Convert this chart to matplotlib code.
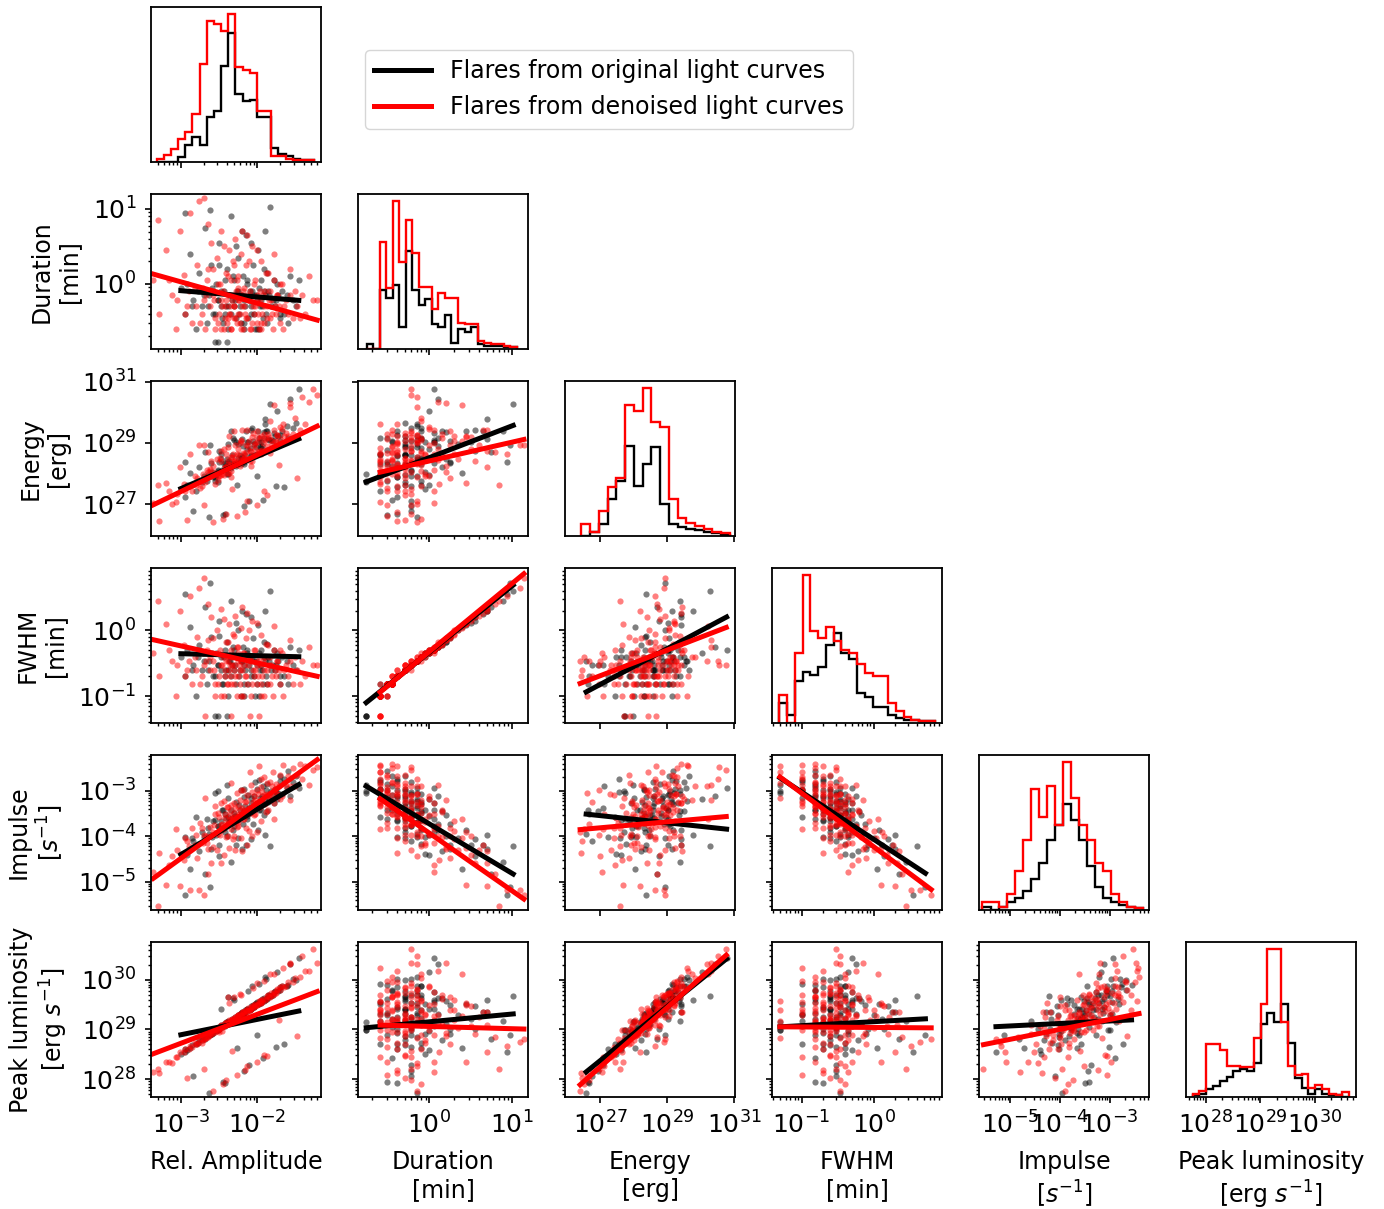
import numpy as np
import matplotlib
matplotlib.use("Agg")
import matplotlib.pyplot as plt
from matplotlib.lines import Line2D
from matplotlib.ticker import LogLocator

plt.rcParams['font.size'] = 17
plt.rcParams['axes.linewidth'] = 1.3
plt.rcParams['xtick.labelsize'] = 18
plt.rcParams['ytick.labelsize'] = 18
plt.rcParams['xtick.major.width'] = 1.2
plt.rcParams['ytick.major.width'] = 1.2
plt.rcParams['xtick.minor.width'] = 1.0
plt.rcParams['ytick.minor.width'] = 1.0
plt.rcParams['xtick.major.size'] = 4.5
plt.rcParams['ytick.major.size'] = 4.5
plt.rcParams['xtick.major.pad'] = 6
plt.rcParams['ytick.major.pad'] = 6

# ---- flare parameters (log10), denoised light curves (red)
red_amp = [-3.36, -3.28, -3.20, -3.12, -3.06, -3.01, -2.96, -2.92, -2.88, -2.85, -2.82, -2.79, -2.76, -2.73, -2.70,
           -2.68, -2.66, -2.64, -2.62, -2.60, -2.58, -2.56, -2.55, -2.53, -2.51, -2.50, -2.48, -2.47, -2.45, -2.44,
           -2.42, -2.41, -2.40, -2.38, -2.37, -2.36, -2.35, -2.34, -2.33, -2.32, -2.31, -2.30, -2.29, -2.28, -2.27,
           -2.26, -2.25, -2.24, -2.23, -2.22, -2.21, -2.20, -2.19, -2.18, -2.16, -2.15, -2.13, -2.12, -2.10, -2.09,
           -2.07, -2.06, -2.04, -2.03, -2.01, -2.00, -1.98, -1.97, -1.95, -1.94, -1.92, -1.90, -1.88, -1.86, -1.84,
           -1.82, -1.80, -1.78, -1.76, -1.74, -1.72, -1.70, -1.68, -1.66, -1.63, -1.60, -1.57, -1.54, -1.51, -1.48,
           -1.45, -1.42, -1.38, -1.33, -1.28, -1.22, -2.90, -2.65, -2.39, -2.14, -3.30, -2.70,
           -2.62, -2.57, -2.52, -2.49, -2.46, -2.43, -2.41, -2.39, -2.37, -2.35, -2.33, -2.31, -2.29, -2.27, -2.25,
           -2.23, -2.21, -2.19, -2.17, -2.15, -2.13, -2.11, -2.09, -2.07, -2.05, -2.03, -2.01, -1.99, -1.97, -1.95,
           -1.93, -1.91, -1.89, -1.87, -1.85, -1.83, -1.81, -1.79, -1.77, -1.75, -2.80, -2.75, -2.71, -2.67, -2.95,
           -3.05, -3.15, -1.70, -1.65, -1.58, -2.44, -2.20, -2.00, -2.58, -2.30, -2.10, -2.48, -1.96, -2.36, -2.26]
red_fwhm = [-0.35, -0.70, 0.10, -0.46, -1.00, 0.30, -0.22, -0.60, 0.52, -0.82, -0.40, -0.10, 0.65, -0.70, -0.52,
            -1.30, -0.30, -0.15, -0.60, 0.20, -0.46, -1.00, -0.82, 0.00, -0.35, -0.70, -0.52, 0.33, -0.40, -1.00,
            -0.60, -0.18, -0.82, -0.46, 0.10, -0.70, -0.30, -1.30, -0.52, -0.05, -0.60, -0.82, 0.22, -0.40, -1.00,
            -0.70, -0.25, -0.52, -0.82, 0.03, -0.46, -0.60, -1.00, -0.35, -0.70, -0.12, -0.82, -0.52, -0.40, -1.00,
            0.14, -0.60, -0.70, -0.30, -0.82, -0.46, -1.30, -0.52, -0.07, -0.70, -1.00, -0.40, -0.60, -0.22, -0.82,
            -0.52, -1.00, 0.06, -0.70, -0.46, -0.60, -0.82, -0.35, -1.00, -0.52, -0.70, -0.15, -0.82, -0.40, -0.60,
            -0.82, -0.46, -0.70, -0.25, -0.52, -0.52, -0.46, 0.40, -0.82, 0.27, 0.45, 0.80,
            -0.40, -0.60, -0.82, -0.30, -0.52, -0.70, -0.46, -0.18, -0.60, -0.82, -0.40, -0.52, -0.70, -0.25, -0.46,
            -0.60, -1.00, -0.35, -0.52, -0.70, -0.40, 0.00, -0.46, -0.82, -0.30, -0.60, -0.52, -0.70, -0.40, -1.00,
            -0.46, -0.60, -0.20, -0.82, -0.52, -0.40, -0.70, -0.30, -0.60, -0.46, -0.60, -0.82, -0.35, -0.46, -0.70,
            -0.52, -0.30, -0.30, -0.60, -0.46, 0.18, 0.35, 0.12, -0.12, -0.08, -1.30, -1.00, -0.82, -0.52, -0.35]
red_dur = [0.05, -0.40, 0.45, -0.15, -0.60, 0.70, 0.12, -0.30, 0.95, -0.52, -0.05, 0.25, 1.10, -0.40, -0.22,
           -0.60, 0.05, 0.20, -0.30, 0.55, -0.15, -0.60, -0.46, 0.35, 0.00, -0.40, -0.22, 0.70, -0.10, -0.60,
           -0.30, 0.15, -0.52, -0.15, 0.45, -0.40, 0.05, -0.60, -0.22, 0.30, -0.30, -0.46, 0.60, -0.10, -0.52,
           -0.40, 0.10, -0.22, -0.52, 0.40, -0.15, -0.30, -0.60, -0.05, -0.40, 0.25, -0.46, -0.22, -0.10, -0.60,
           0.50, -0.30, -0.40, 0.05, -0.52, -0.15, -0.60, -0.22, 0.30, -0.40, -0.52, -0.10, -0.30, 0.15, -0.46,
           -0.22, -0.60, 0.40, -0.40, -0.15, -0.30, -0.52, 0.00, -0.60, -0.22, -0.40, 0.20, -0.46, -0.10, -0.30,
           -0.46, -0.15, -0.40, 0.10, -0.22, -0.22, -0.10, 0.80, -0.46, 0.65, 0.85, 1.15,
           -0.10, -0.22, -0.52, 0.00, -0.30, -0.46, -0.22, 0.10, -0.40, -0.60, -0.15, -0.30, -0.46, 0.05, -0.22,
           -0.40, -0.60, -0.10, -0.30, -0.46, -0.15, 0.30, -0.22, -0.52, 0.00, -0.30, -0.22, -0.40, -0.10, -0.60,
           -0.15, -0.30, 0.15, -0.46, -0.22, -0.10, -0.40, 0.05, -0.30, -0.15, -0.30, -0.52, -0.05, -0.15, -0.40,
           -0.22, 0.05, 0.00, -0.30, -0.15, 0.50, 0.70, 0.45, 0.20, 0.25, -0.60, -0.60, -0.52, -0.30, -0.05]
red_impulse = [-4.79, -4.36, -5.08, -4.44, -3.84, -5.09, -4.52, -4.10, -5.18, -3.81, -4.20, -4.47, -5.19, -3.81, -3.96,
               -3.16, -4.14, -4.27, -3.80, -4.58, -3.90, -3.34, -3.51, -4.31, -3.94, -3.58, -3.74, -4.58, -3.83, -3.22,
               -3.60, -4.01, -3.36, -3.70, -4.25, -3.44, -3.83, -2.82, -3.59, -4.05, -3.49, -3.26, -4.29, -3.66, -3.05,
               -3.34, -3.78, -3.50, -3.19, -4.03, -3.53, -3.38, -2.97, -3.61, -3.24, -3.81, -3.09, -3.38, -3.48, -2.87,
               -3.99, -3.24, -3.12, -3.51, -2.97, -3.32, -2.46, -3.23, -3.66, -3.02, -2.70, -3.28, -3.06, -3.42, -2.80,
               -3.08, -2.58, -3.62, -2.84, -3.06, -2.90, -2.66, -3.11, -2.44, -2.89, -2.68, -3.20, -2.50, -2.89, -2.66,
               -2.41, -2.74, -2.46, -2.86, -2.54, -2.48, -4.22, -4.83, -3.35, -4.19, -5.53, -5.28,
               -4.00, -3.75, -3.48, -3.97, -3.72, -3.51, -3.73, -3.99, -3.55, -3.31, -3.71, -3.57, -3.37, -3.80, -3.57,
               -3.41, -2.99, -3.62, -3.43, -3.23, -3.51, -3.89, -3.41, -3.03, -3.53, -3.21, -3.27, -3.07, -3.35, -2.73,
               -3.25, -3.09, -3.47, -2.83, -3.11, -3.21, -2.89, -3.27, -2.95, -3.07, -3.98, -3.71, -4.14, -3.99, -4.03,
               -4.31, -4.63, -3.18, -2.83, -2.90, -4.40, -4.33, -3.90, -4.24, -4.00, -2.58, -3.26, -2.92, -3.62, -3.69]
red_peak = [28.14, 28.12, 28.35, 28.33, 28.44, 28.54, 28.54, 28.03, 28.67, 28.65, 28.73, 28.71, 28.74, 28.72, 28.20,
            28.82, 28.89, 28.86, 28.93, 28.90, 27.77, 28.99, 28.95, 29.02, 28.99, 28.95, 29.02, 29.08, 27.90, 29.06,
            29.13, 29.09, 29.15, 29.12, 29.53, 29.14, 29.20, 29.16, 28.57, 29.18, 29.24, 29.20, 29.26, 29.22, 28.08,
            29.24, 29.30, 29.26, 29.32, 29.28, 29.69, 29.30, 29.36, 29.32, 28.19, 29.40, 29.37, 29.43, 29.40, 29.41,
            29.48, 29.84, 29.46, 29.52, 28.34, 29.50, 29.57, 29.53, 29.60, 29.56, 29.98, 29.60, 28.47, 29.69, 29.66,
            29.73, 29.70, 30.12, 29.74, 29.81, 29.18, 29.80, 29.87, 30.24, 29.87, 29.95, 30.33, 29.96, 30.04, 28.87,
            30.05, 30.48, 30.17, 30.17, 30.62, 30.33, 28.60, 28.85, 29.66, 29.36, 28.20, 28.80,
            28.88, 28.98, 28.98, 29.06, 28.96, 29.12, 27.99, 29.11, 29.18, 29.15, 29.22, 29.19, 29.21, 29.28, 29.25,
            29.72, 29.29, 29.36, 29.33, 29.40, 28.27, 29.39, 29.46, 29.43, 29.50, 29.47, 29.94, 29.51, 29.58, 29.55,
            29.62, 28.49, 29.61, 29.68, 29.65, 30.12, 29.69, 29.76, 29.73, 29.80, 28.70, 28.80, 28.79, 28.83, 28.60,
            28.45, 28.35, 29.85, 29.85, 30.32, 29.06, 29.35, 29.50, 28.92, 29.65, 29.40, 29.07, 29.54, 29.14, 29.29]
red_energy = [27.05, 26.45, 27.68, 26.99, 27.08, 28.20, 27.65, 26.48, 28.63, 27.42, 27.91, 27.86, 28.92, 27.59, 26.97,
              27.71, 28.10, 28.04, 28.14, 28.41, 26.41, 27.65, 27.97, 28.46, 27.91, 27.91, 28.42, 28.75, 26.52, 27.94,
              28.22, 28.64, 28.02, 28.30, 29.23, 28.28, 28.53, 27.88, 27.49, 28.65, 28.38, 28.42, 28.94, 28.27, 26.62,
              28.32, 28.80, 28.45, 28.26, 29.05, 29.10, 28.46, 28.46, 28.64, 26.75, 28.93, 28.46, 28.89, 28.72, 28.23,
              29.19, 29.32, 28.62, 28.98, 26.98, 29.03, 28.66, 28.73, 29.24, 28.76, 29.28, 29.10, 27.30, 29.28, 28.67,
              29.11, 28.84, 30.23, 29.02, 29.26, 28.29, 29.13, 29.44, 29.60, 29.31, 29.21, 30.30, 29.29, 29.82, 27.86,
              29.41, 30.50, 29.62, 30.32, 30.76, 30.55, 27.60, 28.69, 28.87, 29.41, 27.61, 28.93,
              28.09, 28.06, 27.78, 28.50, 27.98, 28.21, 26.67, 28.43, 28.03, 28.07, 28.54, 28.31, 28.44, 28.64, 28.34,
              28.99, 28.37, 28.66, 28.50, 28.70, 27.11, 29.05, 28.73, 28.41, 28.92, 28.80, 29.40, 28.69, 29.17, 28.63,
              29.00, 27.43, 29.16, 28.90, 29.20, 29.73, 28.95, 29.41, 29.06, 29.25, 27.62, 27.53, 28.00, 27.89, 27.42,
              27.32, 27.44, 29.51, 29.23, 30.18, 28.80, 29.43, 29.19, 28.23, 29.38, 28.42, 27.96, 28.66, 28.24, 28.60]

# ---- flare parameters (log10), original light curves (black)
blk_amp = [-3.00, -2.94, -2.88, -2.84, -2.80, -2.76, -2.72, -2.69, -2.66, -2.63, -2.60, -2.58, -2.56, -2.54, -2.52,
           -2.50, -2.48, -2.46, -2.44, -2.42, -2.40, -2.38, -2.36, -2.34, -2.33, -2.31, -2.30, -2.28, -2.27, -2.25,
           -2.24, -2.22, -2.21, -2.19, -2.18, -2.16, -2.15, -2.13, -2.12, -2.10, -2.08, -2.06, -2.05, -2.03, -2.01,
           -1.99, -1.97, -1.95, -1.93, -1.91, -1.89, -1.87, -1.85, -1.83, -1.80, -1.77, -1.74, -1.71, -1.68, -1.65,
           -1.62, -1.58, -1.54, -1.50, -1.46, -2.62, -2.39, -2.20, -2.52, -2.00, -2.95, -1.60,
           -2.70, -2.64, -2.59, -2.55, -2.51, -2.47, -2.45, -2.43, -2.41, -2.37, -2.35, -2.32, -2.29, -2.26, -2.23,
           -2.20, -2.17, -2.14, -2.11, -2.09, -2.07, -2.04, -2.02, -1.98, -1.96, -1.94, -1.92, -1.90, -1.88, -1.86,
           -1.82, -1.79, -1.76, -1.73, -1.70, -2.78, -2.86, -2.92, -2.28, -2.08, -1.90, -2.40, -2.18, -1.98, -2.50]
blk_fwhm = [-0.40, -0.70, 0.05, -0.52, -1.00, -0.22, -0.60, 0.35, -0.82, -0.46, -0.10, -0.70, -1.30, -0.35, -0.52,
            0.15, -0.60, -0.82, -0.40, -0.70, -0.18, -1.00, -0.46, 0.45, -0.52, -0.60, -0.30, -0.82, -0.40, 0.00,
            -0.70, -0.46, -1.00, -0.25, -0.52, -0.60, 0.25, -0.35, -0.82, -0.40, -0.70, -0.12, -0.46, -1.00, -0.52,
            0.08, -0.60, -0.30, -0.82, -0.40, -0.70, -0.20, -0.46, 0.60, -0.52, -0.60, -0.35, -0.82, -0.40, -0.70,
            -0.46, -0.25, -0.52, -0.60, -0.30, 0.72, -0.60, 0.30, -1.30, -0.82, 0.55, -0.82,
            -0.46, -0.60, -0.35, -0.70, -0.52, -0.40, -0.82, -0.30, -0.60, -0.46, -0.70, -0.25, -0.52, -0.40, -0.60,
            -0.46, -0.82, -0.30, -0.52, -0.60, -0.40, -0.70, -0.46, -0.35, -0.52, -0.60, -0.18, -0.46, -0.82, -0.40,
            -0.60, -0.30, -0.52, -0.46, -0.70, -0.40, -0.60, -0.30, 0.12, 0.20, 0.30, -1.30, -1.00, -1.00, -0.08]
blk_dur = [-0.05, -0.40, 0.40, -0.22, -0.60, 0.15, -0.30, 0.75, -0.52, -0.15, 0.25, -0.40, -0.77, 0.00, -0.22,
           0.55, -0.30, -0.46, -0.10, -0.40, 0.20, -0.60, -0.15, 0.90, -0.22, -0.30, 0.05, -0.46, -0.10, 0.35,
           -0.40, -0.15, -0.52, 0.10, -0.22, -0.30, 0.65, 0.00, -0.46, -0.10, -0.40, 0.25, -0.15, -0.60, -0.22,
           0.45, -0.30, 0.05, -0.46, -0.10, -0.40, 0.15, -0.15, 1.02, -0.22, -0.30, 0.00, -0.46, -0.10, -0.40,
           -0.15, 0.10, -0.22, -0.30, 0.05, 0.98, -0.30, 0.70, -0.77, -0.60, 0.95, -0.52,
           -0.15, -0.30, -0.05, -0.40, -0.22, -0.10, -0.52, 0.05, -0.30, -0.15, -0.40, 0.10, -0.22, -0.10, -0.30,
           -0.15, -0.52, 0.05, -0.22, -0.30, -0.10, -0.40, -0.15, -0.05, -0.22, -0.30, 0.20, -0.15, -0.52, -0.10,
           -0.30, 0.05, -0.22, -0.15, -0.40, -0.10, -0.30, 0.00, 0.50, 0.55, 0.70, -0.77, -0.60, -0.60, 0.25]
blk_impulse = [-4.38, -4.02, -4.71, -4.10, -3.58, -4.32, -3.90, -4.82, -3.62, -3.95, -4.28, -3.66, -3.04, -3.97, -3.78,
               -4.43, -3.66, -3.42, -3.82, -3.50, -4.00, -3.16, -3.68, -4.57, -3.59, -3.49, -3.78, -3.24, -3.65, -4.03,
               -3.32, -3.54, -2.99, -3.72, -3.44, -3.34, -4.18, -3.56, -3.08, -3.48, -3.16, -3.72, -3.37, -2.81, -3.27,
               -3.85, -3.15, -3.43, -2.89, -3.29, -2.97, -3.45, -3.17, -4.21, -3.06, -2.95, -3.17, -2.67, -3.06, -2.73,
               -2.94, -3.11, -2.80, -2.68, -2.94, -5.12, -3.57, -4.28, -3.00, -2.96, -5.28, -2.56,
               -4.02, -3.82, -4.02, -3.63, -3.77, -3.85, -3.41, -3.91, -3.59, -3.69, -3.43, -3.85, -3.55, -3.64, -3.41,
               -3.52, -3.13, -3.62, -3.37, -3.27, -3.45, -3.12, -3.34, -3.41, -3.22, -3.12, -3.52, -3.22, -2.84, -3.24,
               -3.00, -3.27, -3.02, -3.05, -2.78, -4.16, -4.04, -4.40, -4.18, -4.06, -3.98, -2.88, -2.96, -2.76, -4.20]
blk_peak = [28.50, 28.61, 28.62, 28.06, 28.70, 28.79, 28.78, 28.81, 28.89, 27.72, 28.90, 28.92, 28.99, 28.96, 29.03,
            29.00, 29.42, 29.04, 29.11, 27.93, 29.10, 29.17, 29.14, 29.16, 29.22, 29.19, 29.60, 29.22, 28.63, 29.30,
            29.26, 29.33, 29.29, 29.31, 28.17, 29.39, 29.35, 29.42, 29.78, 29.40, 29.42, 29.49, 29.45, 29.52, 28.89,
            29.51, 29.58, 29.55, 28.42, 29.64, 30.01, 29.63, 29.70, 29.67, 29.70, 29.78, 30.16, 29.79, 29.87, 28.70,
            29.88, 30.32, 30.01, 30.00, 30.44, 28.88, 29.66, 29.35, 28.98, 29.55, 28.55, 29.90,
            28.85, 28.86, 28.91, 29.00, 28.99, 29.08, 27.95, 29.07, 29.14, 29.13, 29.15, 29.63, 29.26, 29.24, 29.32,
            29.30, 29.33, 29.41, 28.29, 29.41, 29.88, 29.46, 29.53, 29.52, 29.54, 29.61, 29.58, 30.05, 29.62, 29.69,
            29.68, 29.76, 28.64, 29.77, 29.85, 28.72, 28.69, 28.58, 29.22, 29.47, 29.60, 29.15, 29.32, 29.92, 29.00]
blk_energy = [27.49, 27.23, 28.03, 26.77, 27.44, 28.22, 27.73, 28.70, 27.75, 26.59, 28.33, 27.87, 27.74, 27.96, 28.13,
              28.75, 28.63, 28.10, 28.31, 26.68, 28.48, 28.00, 28.33, 29.38, 28.60, 28.31, 29.09, 28.25, 27.64, 28.95,
              28.34, 28.49, 28.31, 28.91, 26.93, 28.59, 29.40, 28.81, 29.04, 28.82, 28.57, 29.06, 28.96, 28.59, 27.93,
              29.40, 28.85, 29.02, 27.13, 29.16, 29.39, 29.39, 29.11, 30.27, 29.07, 29.23, 30.04, 29.05, 29.38, 27.56,
              29.56, 30.43, 29.50, 29.64, 30.77, 28.94, 28.96, 29.13, 27.73, 28.63, 28.36, 29.17,
              27.92, 27.94, 28.06, 27.88, 28.07, 28.47, 26.64, 28.35, 28.24, 28.41, 28.19, 29.16, 28.35, 28.50, 28.59,
              28.55, 28.37, 29.02, 27.09, 28.61, 29.49, 28.62, 28.87, 29.02, 28.84, 28.89, 29.35, 29.60, 28.78, 29.13,
              29.09, 29.31, 27.58, 29.21, 29.27, 27.77, 27.61, 27.63, 29.03, 29.41, 29.78, 27.97, 28.31, 29.15, 28.37]

# ---- histogram counts on the diagonal (log-spaced bins between hist_lo and hist_hi)
hist_lo = [-3.317, -0.765, 26.45, -1.31, -5.55, 27.76]
hist_hi = [-1.257, 1.063, 30.87, 0.85, -2.33, 30.635]
red_hist = [
    [2, 4.5, 8.5, 14.5, 19, 31, 63, 91, 89, 84, 95, 61, 59, 57, 33, 33, 4, 4, 2, 1, 1, 1],
    [0, 0, 69, 39, 95, 56, 83, 62, 40, 40, 26, 36, 33, 33, 17, 16, 16, 5, 4, 3, 3, 2, 1],
    [8, 3, 17, 33, 39, 89, 85, 100, 77, 74, 25, 12, 9, 7, 5, 3, 2],
    [18, 0, 45, 95, 59, 55, 62, 53, 47, 45, 38, 32, 30, 30, 13, 8, 4, 2, 1, 1],
    [5, 5, 2, 10, 25, 45, 78, 60, 80, 55, 95, 72, 55, 45, 30, 25, 10, 5, 2, 1],
    [2, 4, 34, 34, 30, 20, 20, 19, 19, 38, 60, 95, 95, 48, 20, 14, 15, 6, 8, 5, 2, 1, 3],
]
blk_hist = [
    [0, 0, 0, 3, 11, 16, 11, 29, 33, 62, 83, 44, 39, 40, 29, 29, 9, 5, 4, 2, 1, 1],
    [3, 0, 38, 33, 41, 14, 63, 38, 28, 32, 16, 14, 22, 4, 13, 11, 14, 3, 2, 2, 2, 1, 1],
    [0, 3, 8, 25, 37, 61, 34, 49, 60, 22, 8, 6, 5, 4, 3, 2, 1],
    [13, 5, 27, 33, 31, 36, 50, 58, 45, 41, 19, 17, 10, 10, 5, 3, 2, 2, 1, 1],
    [2, 0, 2, 5, 8, 12, 20, 30, 45, 55, 68, 58, 45, 28, 15, 8, 5, 3, 2, 1],
    [1, 2, 5, 7, 10, 13, 17, 18, 17, 22, 47, 54, 48, 60, 35, 12, 6, 2, 5, 2, 1, 1, 0],
]

# ---- power-law fits (log-log slope, intercept), panel = (row variable, column variable)
fit_panels = [(1, 0), (2, 0), (2, 1), (3, 0), (3, 1), (3, 2), (4, 0), (4, 1), (4, 2), (4, 3),
              (5, 0), (5, 1), (5, 2), (5, 3), (5, 4)]
red_fit = [(-0.287, -0.834), (1.20, 31.01), (0.61, 28.41), (-0.26, -1.016), (1.03, -0.322),
           (0.196, -5.984), (1.22, -0.825), (-1.26, -3.93), (0.066, -5.594), (-1.18, -4.226),
           (0.585, 30.476), (-0.045, 29.06), (0.60, 12.04), (-0.01, 29.04), (0.20, 29.80)]
blk_fit = [(-0.084, -0.343), (1.054, 30.67), (1.03, 28.52), (-0.03, -0.445), (1.00, -0.33),
           (0.273, -8.196), (1.00, -1.40), (-1.08, -3.727), (-0.079, -1.41), (-1.04, -4.063),
           (0.31, 29.823), (0.155, 29.154), (0.545, 13.653), (0.08, 29.156), (0.05, 29.32)]

labels = ['Rel. Amplitude', 'Duration\n[min]', 'Energy\n[erg]', 'FWHM\n[min]',
          'Impulse\n[$s^{-1}$]', 'Peak luminosity\n[erg $s^{-1}$]']
lims = [(-3.39, -1.17), (-0.87, 1.20), (25.96, 31.02), (-1.41, 0.95), (-5.62, -2.21), (27.64, 30.76)]

red_data = [red_amp, red_dur, red_energy, red_fwhm, red_impulse, red_peak]
blk_data = [blk_amp, blk_dur, blk_energy, blk_fwhm, blk_impulse, blk_peak]

W, H = 1384, 1209
fig = plt.figure(figsize=(W / 100, H / 100), dpi=100)


def set_log_ticks(axis, k):
    if k == 2:
        axis.set_major_locator(LogLocator(base=10, numticks=4))


n = 6
for r in range(n):
    for c in range(r + 1):
        left = (151 + 207 * c) / W
        bottom = 1 - (7 + 155 + 187 * r) / H
        ax = fig.add_axes([left, bottom, 170 / W, 155 / H])
        ax.set_xscale('log')
        ax.set_xlim(10 ** lims[c][0], 10 ** lims[c][1])
        set_log_ticks(ax.xaxis, c)
        if r == c:
            edges = 10 ** np.linspace(hist_lo[c], hist_hi[c], len(red_hist[c]) + 1)
            ax.stairs(blk_hist[c], edges, color='k', lw=1.7)
            ax.stairs(red_hist[c], edges, color='r', lw=1.7)
            ax.set_yticks([])
            ax.set_ylim(0, max(red_hist[c]) * 1.05)
        else:
            ax.set_yscale('log')
            ax.set_ylim(10 ** lims[r][0], 10 ** lims[r][1])
            set_log_ticks(ax.yaxis, r)
            ax.scatter(10 ** np.array(blk_data[c]), 10 ** np.array(blk_data[r]),
                       s=20, c='k', alpha=0.5, lw=0)
            ax.scatter(10 ** np.array(red_data[c]), 10 ** np.array(red_data[r]),
                       s=20, c='r', alpha=0.5, lw=0)
            k = fit_panels.index((r, c))
            for fit, dat, col in [(blk_fit[k], blk_data, 'k'), (red_fit[k], red_data, 'r')]:
                xs = np.array([min(dat[c]), max(dat[c])])
                ys = fit[0] * xs + fit[1]
                ax.plot(10 ** xs, 10 ** ys, color=col, lw=3.6)
            if c == 0:
                ax.set_ylabel(labels[r], labelpad=8)
            else:
                ax.tick_params(labelleft=False)
        if r == n - 1:
            ax.set_xlabel(labels[c], labelpad=8)
        else:
            ax.tick_params(labelbottom=False)

handles = [Line2D([0], [0], color='k', lw=3.6), Line2D([0], [0], color='r', lw=3.6)]
fig.legend(handles, ['Flares from original light curves', 'Flares from denoised light curves'],
           loc='upper left', bbox_to_anchor=(365 / W, 1 - 50 / H), borderaxespad=0,
           fontsize=17, handlelength=2.4)

fig.savefig('out.png', dpi=100)
